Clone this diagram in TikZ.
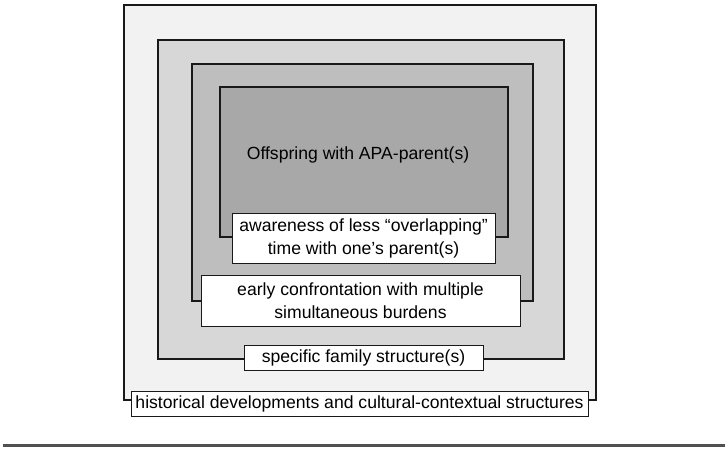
\documentclass[tikz,border=0pt]{standalone}
\usepackage{fontspec}
\setmainfont{Liberation Sans}
\definecolor{gA}{HTML}{F2F2F2}
\definecolor{gB}{HTML}{D7D7D7}
\definecolor{gC}{HTML}{BEBEBE}
\definecolor{gD}{HTML}{A8A8A8}
\definecolor{rule}{HTML}{505050}
\begin{document}
\begin{tikzpicture}[x=1pt,y=-1pt,
  layer/.style={draw=black!90, line width=1.9pt, rectangle, inner sep=0pt, anchor=north west},
  lab/.style={draw=black!90, line width=1pt, fill=white, rectangle, inner sep=0pt, align=center,
    font=\fontsize{17.6}{23}\selectfont},
  plain/.style={inner sep=0pt, font=\fontsize{17.6}{23}\selectfont}]
\useasboundingbox (0,0) rectangle (728,450);
\node[layer, fill=gA, minimum width=472pt, minimum height=395pt] (r1) at (123,4) {};
\node[layer, fill=gB, minimum width=406pt, minimum height=319pt] (r2) at (157,39) {};
\node[layer, fill=gC, minimum width=341pt, minimum height=237pt] (r3) at (191,63) {};
\node[layer, fill=gD, minimum width=288pt, minimum height=150pt] (r4) at (219,86) {};
\node[plain] (off) at (358,155) {Offspring with APA-parent(s)};
\node[lab, minimum width=263pt, minimum height=50pt] (l4) at (363.5,238) {awareness of less “overlapping”\\time with one’s parent(s)};
\node[lab, minimum width=319pt, minimum height=51pt] (l3) at (360.5,300.5) {early confrontation with multiple\\simultaneous burdens};
\node[lab, minimum width=239pt, minimum height=25pt] (l2) at (363.5,357.5) {specific family structure(s)};
\node[lab, minimum width=457pt, minimum height=25pt] (l1) at (359.5,403.5) {historical developments and cultural-contextual structures};
\coordinate (ra) at (3,445);
\coordinate (rb) at (725,445);
\draw[rule, line width=3pt] (ra) -- (rb);
\end{tikzpicture}
\end{document}
